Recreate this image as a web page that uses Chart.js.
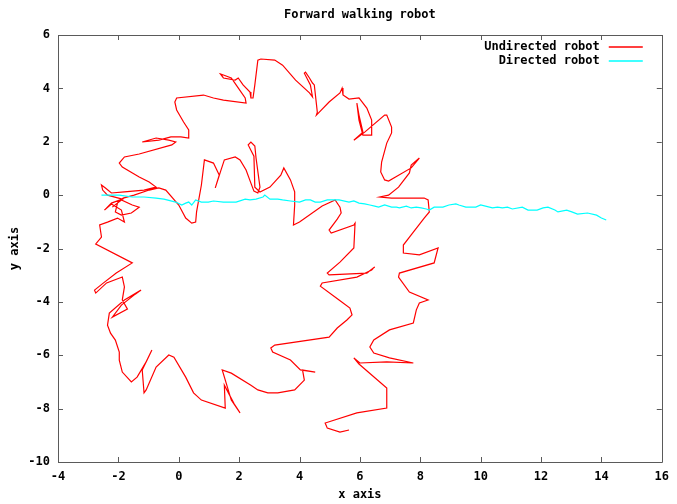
<!DOCTYPE html>
<html>
<head>
<meta charset="utf-8">
<script src="https://cdn.jsdelivr.net/npm/chart.js@4.4.0/dist/chart.umd.min.js"></script>
<style>
  html, body { margin: 0; padding: 0; background: #fff; }
  #wrap { width: 677px; height: 504px; }
</style>
</head>
<body>
<div id="wrap"><canvas id="robotChart" width="677" height="504"></canvas></div>
<script>
const chartTitle = "Forward walking robot";
const seriesNames = ["Undirected robot", "Directed robot"];
const xTicks = [-4, -2, 0, 2, 4, 6, 8, 10, 12, 14, 16];
const yTicks = [-10, -8, -6, -4, -2, 0, 2, 4, 6];

// undirected robot path
const undirectedX = [
  -2.20, -1.90, -1.54, -1.31, -1.57, -1.90, -2.10, -2.03, -1.84, -1.48,
  -0.98, -0.66, -0.43, 0.00, 0.23, 0.43, 0.56, 0.59, 0.75, 0.85,
  1.15, 1.34, 1.21, 1.38, 1.51, 1.87, 2.03, 2.23, 2.39, 2.49,
  2.62, 2.69, 2.56, 2.52, 2.39, 2.30, 2.49, 2.52, 2.69, 3.02,
  3.38, 3.48, 3.70, 3.84, 3.84, 3.80, 4.00, 4.75, 5.18, 5.34,
  5.38, 5.25, 4.98, 5.05, 5.80, 5.84, 5.80, 5.34, 4.92, 4.98,
  6.23, 6.49, 6.39, 5.90, 4.75, 4.69, 5.31, 5.67, 5.74, 5.57,
  5.25, 4.98, 3.18, 3.05, 3.11, 3.70, 4.03, 4.52, 4.10, 4.16,
  3.84, 3.28, 2.95, 2.62, 2.39, 1.74, 1.44, 1.74, 2.03, 1.84,
  1.51, 1.54, 0.75, 0.49, 0.23, -0.16, -0.33, -0.75, -1.08, -1.15,
  -1.21, -0.89, -1.08, -1.38, -1.57, -1.87, -1.97, -1.97, -2.10, -2.26,
  -2.36, -2.30, -1.80, -1.25, -1.44, -1.90, -2.20, -1.70, -1.87, -1.80,
  -1.87, -2.39, -2.75, -2.79, -2.46, -2.07, -1.54, -2.75, -2.56, -2.62,
  -2.36, -2.03, -1.80, -1.90, -2.23, -2.46, -2.23, -1.87, -2.36, -2.52,
  -2.56, -2.43, -2.23, -1.80, -1.15, -0.75, -0.98, -1.31, -1.87, -1.97,
  -1.80, -1.31, -0.23, -0.10, -0.33, -0.75, -1.21, -0.66, -0.26, 0.07,
  0.33, 0.33, 0.16, -0.07, -0.13, -0.07, 0.82, 1.15, 1.48, 2.23,
  2.20, 1.90, 1.74, 1.48, 1.38, 1.48, 1.87, 1.97, 2.13, 2.36,
  2.39, 2.46, 2.52, 2.62, 2.72, 3.18, 3.44, 3.87, 4.33, 4.43,
  4.36, 4.16, 4.20, 4.33, 4.43, 4.49, 4.59, 4.56, 4.98, 5.34,
  5.41, 5.44, 5.64, 5.97, 6.23, 6.39, 6.39, 6.10, 5.97, 5.90,
  5.97, 6.10, 5.80, 6.16, 6.82, 6.89, 7.05, 7.05, 6.89, 6.72,
  6.69, 6.82, 6.95, 7.70, 7.97, 7.70, 7.64, 7.28, 6.95, 6.66,
  7.05, 8.13, 8.26, 8.30, 8.13, 7.70, 7.44, 7.44, 7.97, 8.59,
  8.46, 7.31, 7.28, 7.64, 8.26, 7.97, 7.87, 7.77, 6.98, 6.46,
  6.33, 6.46, 6.98, 7.77, 6.89, 6.00, 5.80, 5.97, 6.89, 6.89,
  5.90, 4.85, 4.92, 5.34, 5.64
];
const undirectedY = [
  -0.45, -0.18, -0.37, -0.45, -0.67, -0.75, -0.63, -0.30, -0.11, 0.00,
  0.19, 0.27, 0.19, -0.37, -0.86, -1.05, -1.01, -0.63, 0.38, 1.32,
  1.20, 0.75, 0.27, 0.87, 1.32, 1.43, 1.32, 0.94, 0.45, 0.15,
  0.08, 0.30, 1.39, 1.84, 1.99, 1.88, 1.46, 0.30, 0.12, 0.30,
  0.75, 1.02, 0.57, 0.12, -0.37, -1.12, -1.01, -0.41, -0.18, -0.45,
  -0.67, -0.90, -1.31, -1.42, -1.12, -1.05, -1.98, -2.51, -2.92, -2.99,
  -2.92, -2.69, -2.81, -3.07, -3.29, -3.41, -3.93, -4.23, -4.49, -4.68,
  -4.98, -5.32, -5.62, -5.73, -5.88, -6.18, -6.55, -6.63, -6.55, -6.93,
  -7.30, -7.41, -7.41, -7.30, -7.12, -6.67, -6.55, -7.68, -8.16, -7.83,
  -7.12, -7.98, -7.68, -7.41, -6.82, -6.07, -5.99, -6.44, -7.30, -7.41,
  -6.55, -5.80, -6.25, -6.82, -7.00, -6.63, -6.18, -5.88, -5.43, -5.17,
  -4.87, -4.42, -3.93, -3.56, -3.71, -4.12, -4.57, -4.27, -3.93, -3.44,
  -3.07, -3.29, -3.67, -3.56, -3.26, -2.92, -2.54, -1.83, -1.57, -1.12,
  -1.01, -0.86, -1.01, -0.56, -0.33, -0.56, -0.30, -0.15, 0.00, 0.19,
  0.38, 0.27, 0.08, 0.12, 0.19, 0.30, 0.49, 0.68, 1.05, 1.20,
  1.43, 1.54, 1.88, 1.99, 2.06, 2.14, 1.99, 2.06, 2.18, 2.18,
  2.14, 2.44, 2.74, 3.19, 3.49, 3.64, 3.75, 3.64, 3.56, 3.45,
  3.64, 4.13, 4.39, 4.50, 4.54, 4.39, 4.31, 4.39, 4.13, 3.86,
  3.64, 3.64, 4.13, 5.06, 5.10, 5.06, 4.87, 4.31, 3.83, 3.68,
  4.13, 4.57, 4.61, 4.39, 4.20, 4.13, 3.11, 3.00, 3.49, 3.83,
  4.01, 3.75, 3.60, 3.64, 3.26, 2.81, 2.25, 2.25, 2.81, 3.45,
  3.00, 2.36, 2.06, 2.36, 3.00, 3.00, 2.55, 2.33, 1.95, 1.24,
  0.87, 0.57, 0.53, 1.02, 1.39, 1.13, 0.83, 0.30, 0.00, -0.07,
  -0.11, -0.11, -0.18, -0.63, -0.86, -1.49, -1.87, -2.17, -2.24, -1.98,
  -2.54, -2.92, -3.07, -3.63, -3.93, -4.04, -4.30, -4.79, -5.05, -5.43,
  -5.69, -5.92, -6.10, -6.29, -6.25, -6.29, -6.10, -6.33, -7.23, -7.98,
  -8.16, -8.54, -8.73, -8.88, -8.80
];

// directed robot path
const directedX = [
  -2.56, -2.30, -1.97, -1.54, -1.15, -0.75, -0.49, -0.10, 0.10, 0.23,
  0.33, 0.43, 0.56, 0.75, 0.98, 1.15, 1.48, 1.90, 2.20, 2.36,
  2.56, 2.79, 2.85, 3.02, 3.28, 3.44, 3.70, 4.00, 4.20, 4.36,
  4.52, 4.69, 4.92, 5.08, 5.31, 5.64, 5.80, 5.97, 6.16, 6.33,
  6.49, 6.62, 6.82, 7.05, 7.21, 7.31, 7.54, 7.70, 7.87, 8.03,
  8.20, 8.30, 8.46, 8.75, 8.95, 9.18, 9.28, 9.51, 9.84, 10.00,
  10.16, 10.39, 10.56, 10.72, 10.89, 11.05, 11.38, 11.57, 11.87, 12.07,
  12.23, 12.46, 12.56, 12.85, 13.02, 13.21, 13.54, 13.84, 14.00, 14.16
];
const directedY = [
  0.00, 0.00, 0.00, -0.07, -0.07, -0.11, -0.15, -0.26, -0.37, -0.30,
  -0.26, -0.37, -0.18, -0.26, -0.26, -0.22, -0.26, -0.26, -0.15, -0.18,
  -0.15, -0.07, 0.00, -0.15, -0.15, -0.18, -0.22, -0.26, -0.18, -0.18,
  -0.26, -0.26, -0.18, -0.18, -0.18, -0.26, -0.22, -0.30, -0.33, -0.37,
  -0.41, -0.45, -0.37, -0.45, -0.45, -0.48, -0.41, -0.48, -0.45, -0.48,
  -0.52, -0.56, -0.45, -0.45, -0.37, -0.33, -0.37, -0.45, -0.45, -0.37,
  -0.41, -0.48, -0.45, -0.48, -0.45, -0.52, -0.45, -0.56, -0.56, -0.48,
  -0.45, -0.56, -0.63, -0.56, -0.63, -0.71, -0.67, -0.75, -0.86, -0.93
];

const lineColors = ["#ff0000", "#00ffff"];
const monoFont = "'DejaVu Sans Mono', 'Liberation Mono', monospace";

function toPoints(xs, ys) {
  return xs.map((x, i) => ({ x: x, y: ys[i] }));
}

// gnuplot style frame with inward ticks, title and key
const gnuplotFrame = {
  id: "gnuplotFrame",
  afterDraw(chart) {
    const ctx = chart.ctx;
    const area = chart.chartArea;
    const xs = chart.scales.x;
    const ys = chart.scales.y;
    const tick = 5;
    ctx.save();
    ctx.strokeStyle = "#5a5a5a";
    ctx.lineWidth = 1;
    ctx.beginPath();
    ctx.rect(Math.round(area.left) + 0.5, Math.round(area.top) + 0.5,
      Math.round(area.right - area.left), Math.round(area.bottom - area.top));
    xTicks.forEach((v) => {
      const px = Math.round(xs.getPixelForValue(v)) + 0.5;
      ctx.moveTo(px, area.bottom); ctx.lineTo(px, area.bottom - tick);
      ctx.moveTo(px, area.top); ctx.lineTo(px, area.top + tick);
    });
    yTicks.forEach((v) => {
      const py = Math.round(ys.getPixelForValue(v)) + 0.5;
      ctx.moveTo(area.left, py); ctx.lineTo(area.left + tick, py);
      ctx.moveTo(area.right, py); ctx.lineTo(area.right - tick, py);
    });
    ctx.stroke();
    ctx.restore();

    // title
    ctx.save();
    ctx.fillStyle = "#000";
    ctx.font = "bold 12px " + monoFont;
    ctx.textAlign = "center";
    ctx.textBaseline = "middle";
    ctx.fillText(chartTitle, (area.left + area.right) / 2, 15);
    ctx.restore();

    // key
    seriesNames.forEach((name, i) => {
      const y = Math.round(area.top + 12 + i * 14);
      ctx.save();
      ctx.fillStyle = "#000";
      ctx.font = "bold 12px " + monoFont;
      ctx.textAlign = "right";
      ctx.textBaseline = "middle";
      ctx.fillText(name, area.right - 62, y);
      ctx.strokeStyle = lineColors[i];
      ctx.lineWidth = 1.5;
      ctx.beginPath();
      ctx.moveTo(area.right - 53, y);
      ctx.lineTo(area.right - 19, y);
      ctx.stroke();
      ctx.restore();
    });
  }
};

const ctx = document.getElementById("robotChart").getContext("2d");
const robotChart = new Chart(ctx, {
  type: "scatter",
  data: {
    datasets: [
      {
        label: seriesNames[0],
        data: toPoints(undirectedX, undirectedY),
        showLine: true,
        borderColor: lineColors[0],
        borderWidth: 1.2,
        pointRadius: 0,
        tension: 0,
        order: 2,
      },
      {
        label: seriesNames[1],
        data: toPoints(directedX, directedY),
        showLine: true,
        borderColor: lineColors[1],
        borderWidth: 1.2,
        pointRadius: 0,
        tension: 0,
        order: 1,
      },
    ],
  },
  options: {
    responsive: false,
    animation: false,
    devicePixelRatio: 1,
    layout: { padding: { top: 35, right: 9, left: 0, bottom: 0 } },
    plugins: {
      legend: { display: false },
      tooltip: { enabled: false },
      title: { display: false },
    },
    scales: {
      x: {
        type: "linear",
        min: -4,
        max: 16,
        afterBuildTicks: (s) => { s.ticks = xTicks.map((v) => ({ value: v })); },
        afterFit: (s) => { s.height = 42; },
        grid: { display: false, drawTicks: false },
        border: { display: false },
        ticks: {
          color: "#000",
          padding: 8,
          maxRotation: 0,
          font: { family: monoFont, size: 12, weight: "bold" },
        },
        title: {
          display: true,
          text: "x axis",
          color: "#000",
          padding: { top: 0, bottom: 2 },
          font: { family: monoFont, size: 12, weight: "bold" },
        },
      },
      y: {
        type: "linear",
        min: -10,
        max: 6,
        afterBuildTicks: (s) => { s.ticks = yTicks.map((v) => ({ value: v })); },
        afterFit: (s) => { s.width = 58; },
        grid: { display: false, drawTicks: false },
        border: { display: false },
        ticks: {
          color: "#000",
          padding: 8,
          font: { family: monoFont, size: 12, weight: "bold" },
        },
        title: {
          display: true,
          text: "y axis",
          color: "#000",
          padding: { top: 8, bottom: 0 },
          font: { family: monoFont, size: 12, weight: "bold" },
        },
      },
    },
  },
  plugins: [gnuplotFrame],
});
</script>
</body>
</html>
